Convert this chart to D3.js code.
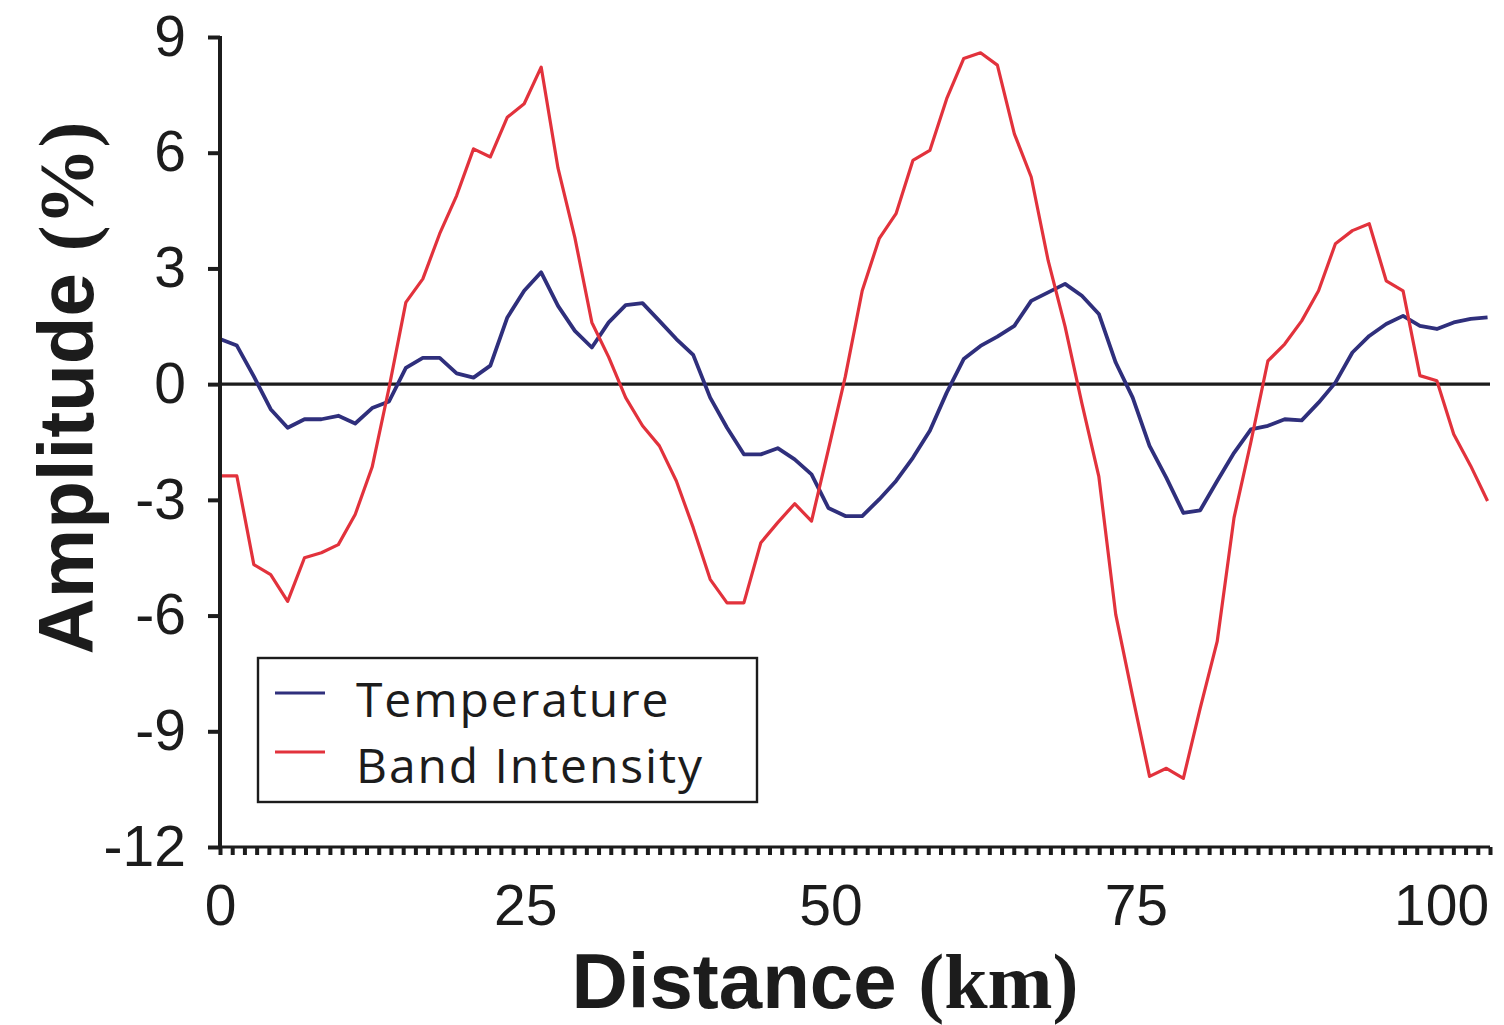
<!DOCTYPE html>
<html>
<head>
<meta charset="utf-8">
<script src="https://cdn.jsdelivr.net/npm/d3@7"></script>
<style>
  html, body { margin: 0; padding: 0; background: #ffffff; }
  svg { display: block; }
</style>
</head>
<body>
<svg id="chart" width="1504" height="1025"></svg>
<script>
// Sample positions along the profile (km)
const distanceKm = [
  0.00, 1.38, 2.77, 4.15, 5.54, 6.92, 8.30, 9.69, 11.07, 12.46,
  13.84, 15.22, 16.61, 17.99, 19.38, 20.76, 22.14, 23.53, 24.91, 26.30,
  27.68, 29.06, 30.45, 31.83, 33.22, 34.60, 35.98, 37.37, 38.75, 40.14,
  41.52, 42.90, 44.29, 45.67, 47.06, 48.44, 49.82, 51.21, 52.59, 53.98,
  55.36, 56.74, 58.13, 59.51, 60.90, 62.28, 63.66, 65.05, 66.43, 67.82,
  69.20, 70.58, 71.97, 73.35, 74.74, 76.12, 77.50, 78.89, 80.27, 81.66,
  83.04, 84.42, 85.81, 87.19, 88.58, 89.96, 91.34, 92.73, 94.11, 95.50,
  96.88, 98.26, 99.65, 101.03, 102.42, 103.80
];

// Temperature amplitude (%)
const temperature = [
  1.17, 1.00, 0.20, -0.65, -1.13, -0.91, -0.91, -0.82, -1.02, -0.62,
  -0.45, 0.42, 0.68, 0.68, 0.28, 0.17, 0.48, 1.73, 2.42, 2.90,
  2.03, 1.38, 0.95, 1.60, 2.05, 2.10, 1.64, 1.17, 0.76, -0.35,
  -1.13, -1.82, -1.82, -1.66, -1.95, -2.34, -3.21, -3.42, -3.42, -2.99,
  -2.51, -1.91, -1.21, -0.22, 0.65, 0.99, 1.23, 1.51, 2.16, 2.38,
  2.60, 2.29, 1.82, 0.56, -0.35, -1.60, -2.43, -3.34, -3.27, -2.51,
  -1.78, -1.17, -1.08, -0.91, -0.94, -0.48, 0.04, 0.82, 1.25, 1.56,
  1.77, 1.51, 1.43, 1.60, 1.69, 1.73
];

// Band intensity amplitude (%)
const bandIntensity = [
  -2.38, -2.38, -4.68, -4.94, -5.63, -4.50, -4.37, -4.16, -3.38, -2.15,
  -0.10, 2.12, 2.73, 3.90, 4.89, 6.10, 5.89, 6.92, 7.27, 8.22,
  5.60, 3.80, 1.60, 0.70, -0.35, -1.08, -1.60, -2.51, -3.72, -5.06,
  -5.67, -5.67, -4.11, -3.59, -3.10, -3.55, -1.70, 0.20, 2.42, 3.77,
  4.42, 5.80, 6.06, 7.40, 8.44, 8.59, 8.27, 6.49, 5.37, 3.20,
  1.50, -0.50, -2.40, -5.97, -8.10, -10.17, -9.96, -10.22, -8.40, -6.67,
  -3.46, -1.50, 0.60, 1.04, 1.64, 2.42, 3.64, 3.98, 4.16, 2.68,
  2.42, 0.22, 0.09, -1.30, -2.12, -3.03
];

const yTickValues = [9, 6, 3, 0, -3, -6, -9, -12];
const xTickValues = [0, 25, 50, 75, 100];
const seriesNames = ["Temperature", "Band Intensity"];
const seriesColors = ["#2f2f7c", "#e2323c"];

const svg = d3.select("#chart");

const x = d3.scaleLinear().domain([0, 104]).range([220, 1490]);
const y = d3.scaleLinear().domain([-12, 9]).range([847, 37]);

const ink = "#1c1c1c";
const sans = "'Liberation Sans', Arial, Helvetica, sans-serif";
const serif = "'Liberation Serif', 'Times New Roman', serif";

// Zero reference line
svg.append("line")
  .attr("x1", x(0)).attr("x2", x(104))
  .attr("y1", y(0)).attr("y2", y(0))
  .attr("stroke", ink).attr("stroke-width", 3.2);

// Series lines
const line = d3.line()
  .x((d, i) => x(distanceKm[i]))
  .y(d => y(d));

const seriesData = [temperature, bandIntensity];
const widths = [3.8, 3.2];
seriesData.forEach((vals, k) => {
  svg.append("path")
    .datum(vals)
    .attr("fill", "none")
    .attr("stroke", seriesColors[k])
    .attr("stroke-width", widths[k])
    .attr("stroke-linejoin", "round")
    .attr("d", line);
});

// Y axis
const yAxis = svg.append("g")
  .attr("transform", `translate(${x(0)},0)`)
  .call(d3.axisLeft(y).tickValues(yTickValues).tickSize(12).tickPadding(22)
    .tickFormat(d3.format("d")));
yAxis.select(".domain").remove();
yAxis.append("line")
  .attr("x1", 0).attr("x2", 0)
  .attr("y1", y(9) - 1).attr("y2", y(-12) + 1)
  .attr("stroke", ink).attr("stroke-width", 4);
yAxis.selectAll(".tick line").attr("stroke", ink).attr("stroke-width", 4);
yAxis.selectAll(".tick text")
  .attr("fill", ink)
  .style("font-family", sans)
  .style("font-size", "57px")
  .text(d => d < 0 ? "-" + Math.abs(d) : d);

// X axis with minor ticks every kilometre
const minorTicks = d3.range(0, 105, 1);
const xMinor = svg.append("g")
  .attr("transform", `translate(0,${y(-12)})`)
  .call(d3.axisBottom(x).tickValues(minorTicks).tickSize(8).tickFormat(""));
xMinor.select(".domain").remove();
xMinor.selectAll(".tick line").attr("stroke", ink).attr("stroke-width", 4);
svg.append("line")
  .attr("x1", x(0) - 2).attr("x2", x(104))
  .attr("y1", y(-12)).attr("y2", y(-12))
  .attr("stroke", ink).attr("stroke-width", 3);

const xAxis = svg.append("g")
  .attr("transform", `translate(0,${y(-12)})`)
  .call(d3.axisBottom(x).tickValues(xTickValues).tickSize(0).tickPadding(38));
xAxis.select(".domain").remove();
xAxis.selectAll(".tick text")
  .attr("fill", ink)
  .style("font-family", sans)
  .style("font-size", "57px");

// Axis titles
const yTitle = svg.append("text")
  .attr("transform", "translate(93,388) rotate(-90)")
  .attr("text-anchor", "middle")
  .attr("fill", ink)
  .style("font-size", "78px")
  .style("font-weight", "bold");
yTitle.append("tspan").style("font-family", sans).text("Amplitude ");
yTitle.append("tspan").style("font-family", serif).text("(%)");

const xTitle = svg.append("text")
  .attr("x", 825).attr("y", 1008)
  .attr("text-anchor", "middle")
  .attr("fill", ink)
  .style("font-size", "78px")
  .style("font-weight", "bold");
xTitle.append("tspan").style("font-family", sans).text("Distance ");
xTitle.append("tspan").style("font-family", serif).text("(km)");

// Legend
const legend = svg.append("g").attr("transform", "translate(258,658)");
legend.append("rect")
  .attr("width", 499).attr("height", 144)
  .attr("fill", "#ffffff")
  .attr("stroke", ink).attr("stroke-width", 2.4);
seriesNames.forEach((name, k) => {
  const row = legend.append("g").attr("transform", `translate(0,${35 + k * 59})`);
  row.append("line")
    .attr("x1", 17).attr("x2", 67)
    .attr("y1", 0).attr("y2", 0)
    .attr("stroke", seriesColors[k]).attr("stroke-width", 3);
  row.append("text")
    .attr("x", 98).attr("y", 24 + k * 7)
    .attr("fill", ink)
    .style("font-family", "'Open Sans', 'Noto Sans', sans-serif")
    .style("font-size", "48px")
    .style("letter-spacing", "1.9px")
    .text(name);
});
</script>
</body>
</html>
